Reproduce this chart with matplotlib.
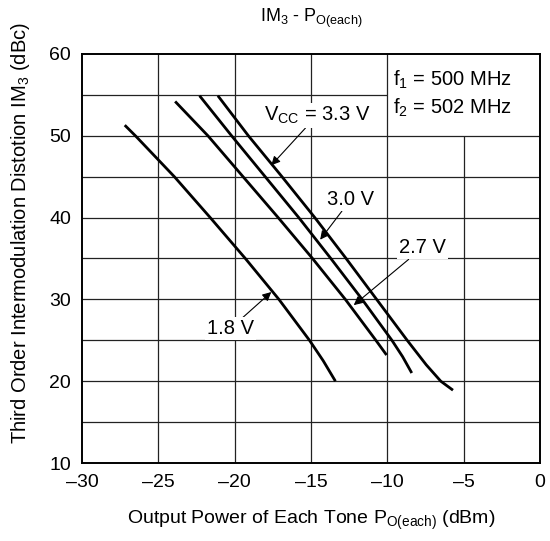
import matplotlib.pyplot as plt
import numpy as np

plt.rcParams['font.family'] = ['Liberation Sans', 'DejaVu Sans']
plt.rcParams['mathtext.fontset'] = 'custom'
plt.rcParams['mathtext.rm'] = 'Liberation Sans'

# curves (Po each tone in dBm, IM3 in dBc)
po_18 = [-27.2, -26.5, -23.95, -21.6, -19.3, -17.1, -15.1, -14.2, -13.4]
im3_18 = [51.3, 50.0, 45.0, 40.0, 35.0, 30.0, 25.0, 22.5, 20.0]

po_27 = [-23.9, -21.75, -19.45, -17.15, -14.9, -12.75, -10.75, -10.05]
im3_27 = [54.2, 50.0, 45.0, 40.0, 35.0, 30.0, 25.0, 23.2]

po_30 = [-22.3, -20.2, -18.0, -15.8, -13.7, -11.65, -9.7, -9.0, -8.4]
im3_30 = [54.9, 50.0, 45.0, 40.0, 35.0, 30.0, 25.0, 23.0, 21.0]

po_33 = [-21.1, -19.1, -16.9, -14.75, -12.7, -10.7, -8.7, -7.45, -6.5, -5.7]
im3_33 = [54.9, 50.0, 45.0, 40.0, 35.0, 30.0, 25.0, 22.0, 20.0, 18.9]

x_ticks = [-30, -25, -20, -15, -10, -5, 0]
x_labels = ['–30', '–25', '–20', '–15', '–10', '–5', '0']
y_ticks = [10, 20, 30, 40, 50, 60]

fig = plt.figure(figsize=(5.5, 5.41), dpi=100)
ax = fig.add_axes([82 / 550, 78 / 541, 458 / 550, 409 / 541])

# grid (box in the upper right corner is left blank)
gc = '#222222'
for v in [-25, -20, -15, -10]:
    ax.axvline(v, color=gc, lw=0.9, zorder=1)
ax.vlines(-5, 10, 50, color=gc, lw=0.9, zorder=1)
for h in [15, 20, 25, 30, 35, 40, 45, 50]:
    ax.axhline(h, color=gc, lw=0.9, zorder=1)
ax.hlines(55, -30, -10, color=gc, lw=0.9, zorder=1)

for xs, ys in [(po_18, im3_18), (po_27, im3_27), (po_30, im3_30), (po_33, im3_33)]:
    ax.plot(xs, ys, color='black', lw=2.0, solid_capstyle='butt', solid_joinstyle='round', zorder=3)

ax.set_xlim(-30, 0)
ax.set_ylim(10, 60)
ax.set_xticks(x_ticks)
ax.set_xticklabels(x_labels)
ax.set_yticks(y_ticks)
ax.tick_params(length=0, labelsize=14, pad=8)
for s in ax.spines.values():
    s.set_linewidth(1.4)

fs = 14.5
bb = dict(boxstyle='square,pad=0.1', fc='white', ec='none')
ap = dict(arrowstyle='-|>', color='black', lw=0.8, mutation_scale=13, shrinkA=0, shrinkB=0)
ax.annotate(r'V$_\mathregular{CC}$ = 3.3 V', xy=(-17.6, 46.4), xytext=(-14.6, 52.5),
            fontsize=fs, ha='center', va='center', bbox=bb, arrowprops=ap, zorder=5)
ax.annotate('3.0 V', xy=(-14.4, 37.3), xytext=(-12.4, 42.2),
            fontsize=fs, ha='center', va='center', bbox=bb, arrowprops=ap, zorder=5)
ax.annotate('2.7 V', xy=(-12.2, 29.3), xytext=(-7.7, 36.3),
            fontsize=fs, ha='center', va='center', bbox=bb, arrowprops=ap, zorder=5)
ax.annotate('1.8 V', xy=(-17.6, 30.9), xytext=(-20.3, 26.4),
            fontsize=fs, ha='center', va='center', bbox=bb, arrowprops=ap, zorder=5)

ax.text(-9.6, 56.8, r'f$_\mathregular{1}$ = 500 MHz', fontsize=fs, ha='left', va='center')
ax.text(-9.6, 53.4, r'f$_\mathregular{2}$ = 502 MHz', fontsize=fs, ha='left', va='center')

ax.text(0.5, 1.086, r'IM$_\mathregular{3}$ - P$_\mathregular{O(each)}$', transform=ax.transAxes,
        fontsize=13, ha='center', va='center')
ax.set_xlabel(r'Output Power of Each Tone P$_\mathregular{O(each)}$ (dBm)', fontsize=14)
ax.xaxis.set_label_coords(0.5, -0.139)
ax.xaxis.label.set_va('center')
ax.set_ylabel(r'Third Order Intermodulation Distotion IM$_\mathregular{3}$ (dBc)', fontsize=14.5)
ax.yaxis.set_label_coords(-0.135, 0.562)
ax.yaxis.label.set_va('center')

fig.savefig('out.png', dpi=100)
